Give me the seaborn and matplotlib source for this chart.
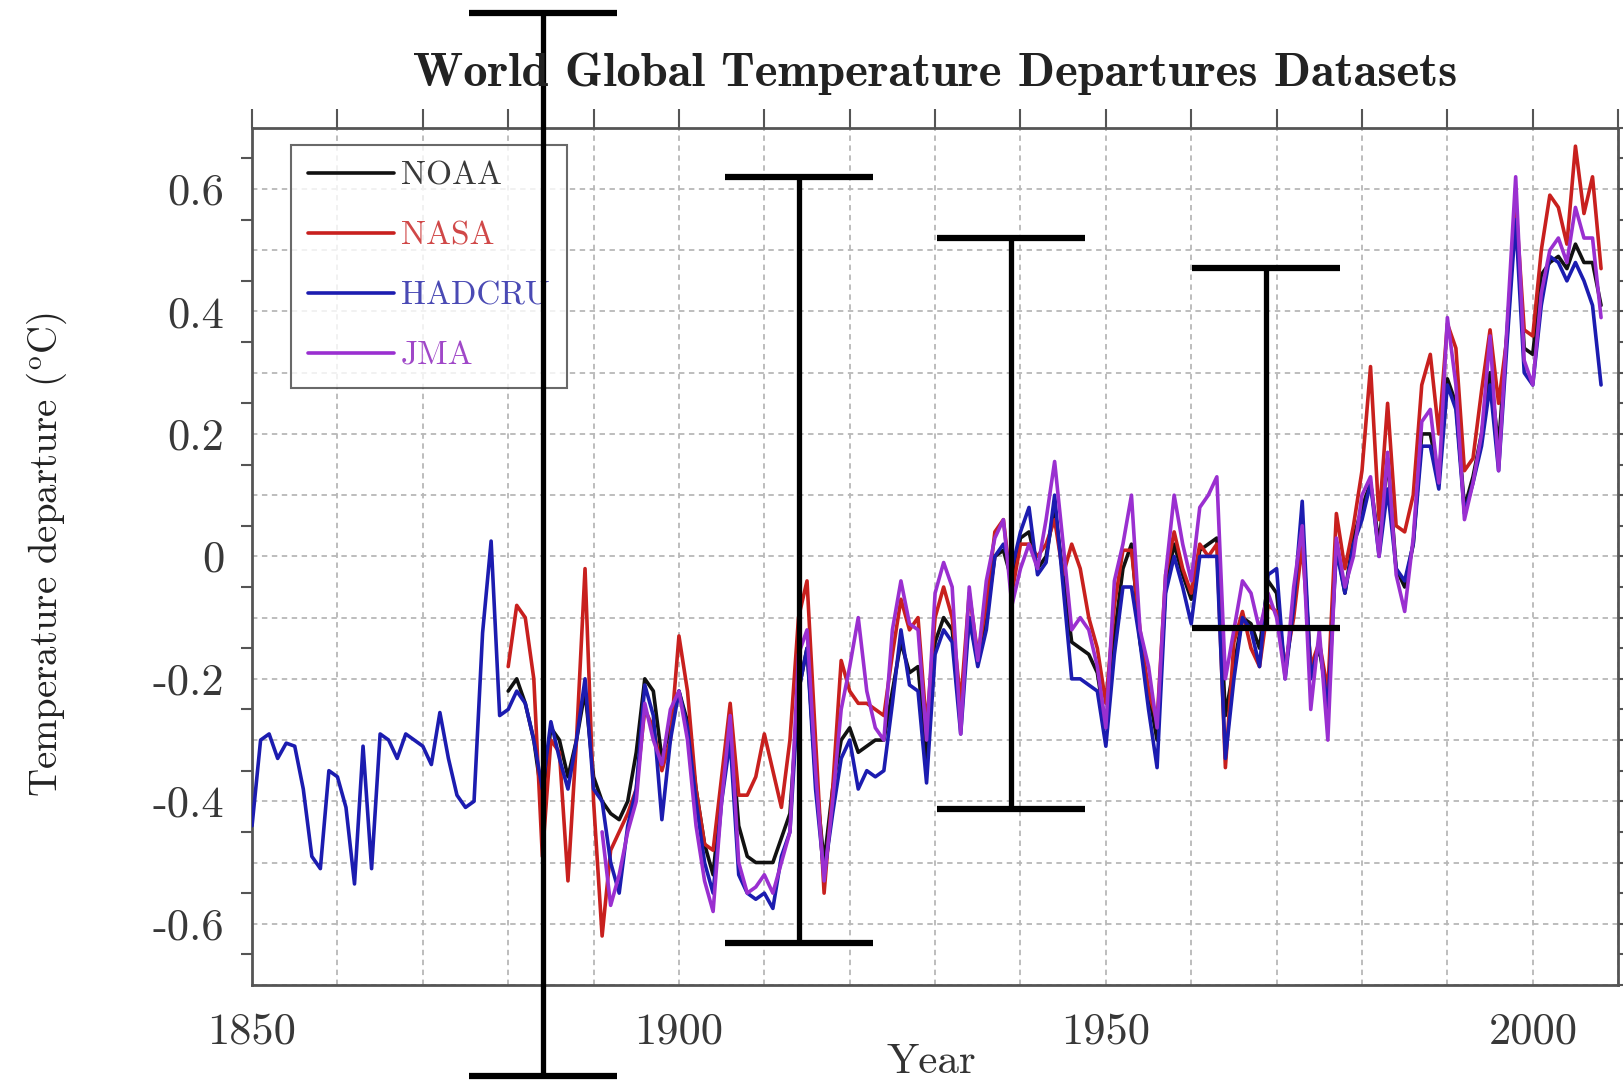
import numpy as np
import pandas as pd
import matplotlib
matplotlib.use("Agg")
import matplotlib.pyplot as plt
import seaborn as sns
from matplotlib.ticker import MultipleLocator

# ---------------- data ----------------
hadcru_years = list(range(1850, 2009))
hadcru = [
    -0.44, -0.30, -0.29, -0.33, -0.305, -0.31, -0.38, -0.49, -0.51, -0.35,
    -0.36, -0.41, -0.535, -0.31, -0.51, -0.29, -0.30, -0.33, -0.29, -0.30,
    -0.31, -0.34, -0.255, -0.33, -0.39, -0.41, -0.40, -0.125, 0.025, -0.26,
    -0.25, -0.22, -0.24, -0.30, -0.38, -0.27, -0.33, -0.38, -0.30, -0.20,
    -0.38, -0.40, -0.50, -0.55, -0.44, -0.38, -0.21, -0.26, -0.43, -0.30,
    -0.22, -0.28, -0.40, -0.50, -0.55, -0.40, -0.30, -0.52, -0.55, -0.56,
    -0.55, -0.575, -0.49, -0.45, -0.22, -0.15, -0.38, -0.52, -0.42, -0.33,
    -0.30, -0.38, -0.35, -0.36, -0.35, -0.24, -0.12, -0.21, -0.22, -0.37,
    -0.16, -0.12, -0.14, -0.29, -0.10, -0.18, -0.12, 0.00, 0.02, -0.02,
    0.04, 0.08, -0.03, -0.01, 0.10, -0.05, -0.20, -0.20, -0.21, -0.22,
    -0.31, -0.16, -0.05, -0.05, -0.14, -0.25, -0.345, -0.06, 0.00, -0.05,
    -0.11, 0.00, 0.00, 0.00, -0.33, -0.20, -0.10, -0.12, -0.18, -0.03,
    -0.02, -0.20, -0.08, 0.09, -0.20, -0.14, -0.25, 0.01, -0.06, 0.02,
    0.06, 0.12, 0.00, 0.11, -0.02, -0.04, 0.02, 0.18, 0.18, 0.11,
    0.28, 0.24, 0.07, 0.12, 0.18, 0.28, 0.14, 0.35, 0.55, 0.30,
    0.28, 0.41, 0.49, 0.48, 0.45, 0.48, 0.45, 0.41, 0.28,
]

other_years = list(range(1880, 2009))
noaa = [
    -0.22, -0.20, -0.24, -0.30, -0.40, -0.28, -0.30, -0.36, -0.30, -0.22,
    -0.36, -0.40, -0.42, -0.43, -0.40, -0.32, -0.20, -0.22, -0.33, -0.28,
    -0.22, -0.27, -0.38, -0.47, -0.52, -0.38, -0.27, -0.44, -0.49, -0.50,
    -0.50, -0.50, -0.46, -0.42, -0.22, -0.15, -0.36, -0.50, -0.38, -0.30,
    -0.28, -0.32, -0.31, -0.30, -0.30, -0.22, -0.14, -0.19, -0.18, -0.33,
    -0.14, -0.10, -0.12, -0.25, -0.10, -0.17, -0.10, 0.00, 0.01, -0.04,
    0.03, 0.04, -0.02, 0.00, 0.08, -0.03, -0.14, -0.15, -0.16, -0.19,
    -0.28, -0.13, -0.02, 0.02, -0.14, -0.22, -0.30, -0.05, 0.02, -0.03,
    -0.07, 0.01, 0.02, 0.03, -0.26, -0.18, -0.10, -0.11, -0.15, -0.04,
    -0.06, -0.19, -0.08, 0.05, -0.19, -0.15, -0.24, 0.02, -0.06, 0.03,
    0.08, 0.12, 0.02, 0.16, -0.02, -0.05, 0.02, 0.20, 0.20, 0.13,
    0.29, 0.25, 0.08, 0.13, 0.20, 0.30, 0.18, 0.37, 0.57, 0.34,
    0.33, 0.46, 0.48, 0.49, 0.47, 0.51, 0.48, 0.48, 0.41,
]
nasa = [
    -0.18, -0.08, -0.10, -0.20, -0.49, -0.30, -0.32, -0.53, -0.30, -0.02,
    -0.40, -0.62, -0.48, -0.45, -0.42, -0.38, -0.25, -0.28, -0.35, -0.30,
    -0.13, -0.22, -0.38, -0.47, -0.48, -0.36, -0.24, -0.39, -0.39, -0.36,
    -0.29, -0.35, -0.41, -0.30, -0.10, -0.04, -0.30, -0.55, -0.38, -0.17,
    -0.22, -0.24, -0.24, -0.25, -0.26, -0.16, -0.07, -0.12, -0.10, -0.28,
    -0.10, -0.05, -0.10, -0.24, -0.06, -0.16, -0.08, 0.04, 0.06, -0.06,
    0.02, 0.02, 0.00, 0.02, 0.06, -0.03, 0.02, -0.02, -0.10, -0.15,
    -0.24, -0.08, 0.01, 0.01, -0.12, -0.22, -0.27, -0.03, 0.04, -0.02,
    -0.06, 0.02, 0.00, 0.02, -0.345, -0.14, -0.09, -0.15, -0.18, -0.08,
    -0.09, -0.18, -0.10, 0.02, -0.18, -0.14, -0.22, 0.07, -0.02, 0.05,
    0.14, 0.31, 0.06, 0.25, 0.05, 0.04, 0.10, 0.28, 0.33, 0.20,
    0.38, 0.34, 0.14, 0.16, 0.27, 0.37, 0.25, 0.36, 0.58, 0.37,
    0.36, 0.50, 0.59, 0.57, 0.51, 0.67, 0.56, 0.62, 0.47,
]

jma_years = list(range(1891, 2009))
jma = [
    -0.45, -0.57, -0.52, -0.45, -0.40, -0.24, -0.30, -0.34, -0.25,
    -0.22, -0.30, -0.44, -0.53, -0.58, -0.40, -0.26, -0.50, -0.55, -0.54,
    -0.52, -0.55, -0.50, -0.45, -0.16, -0.12, -0.35, -0.53, -0.40, -0.25,
    -0.18, -0.10, -0.22, -0.28, -0.30, -0.12, -0.04, -0.11, -0.12, -0.30,
    -0.06, -0.01, -0.05, -0.29, -0.05, -0.17, -0.04, 0.03, 0.06, -0.08,
    -0.02, 0.02, -0.02, 0.06, 0.155, 0.02, -0.12, -0.10, -0.12, -0.18,
    -0.28, -0.04, 0.02, 0.10, -0.12, -0.18, -0.28, -0.03, 0.10, 0.02,
    -0.04, 0.08, 0.10, 0.13, -0.20, -0.12, -0.04, -0.06, -0.12, -0.06,
    -0.10, -0.20, -0.05, 0.05, -0.25, -0.12, -0.30, 0.03, -0.05, 0.00,
    0.10, 0.13, 0.00, 0.17, -0.03, -0.09, 0.03, 0.22, 0.24, 0.12,
    0.39, 0.28, 0.06, 0.12, 0.20, 0.36, 0.14, 0.38, 0.62, 0.32,
    0.28, 0.43, 0.50, 0.52, 0.48, 0.57, 0.52, 0.52, 0.39,
]

datasets = ["NOAA", "NASA", "HADCRU", "JMA"]
line_colors = ["#111111", "#c8201e", "#1c1cb0", "#9a2fd0"]
legend_text_colors = ["#3a3a3a", "#d04848", "#4a4ab4", "#a048c8"]

# error-bar overlay (year, lower, upper)
bar_years = [1884.1, 1914.1, 1938.9, 1968.8]
bar_low = [-0.849, -0.631, -0.412, -0.117]
bar_high = [0.888, 0.619, 0.520, 0.471]

x_ticks = list(range(1850, 2011, 10))
x_tick_labels = ["1850", "", "", "", "", "1900", "", "", "", "", "1950",
                 "", "", "", "", "2000", ""]
y_ticks = [-0.7, -0.6, -0.5, -0.4, -0.3, -0.2, -0.1, 0.0, 0.1, 0.2, 0.3,
           0.4, 0.5, 0.6, 0.7]
y_tick_labels = ["", "-0.6", "", "-0.4", "", "-0.2", "", "0", "", "0.2", "",
                 "0.4", "", "0.6", ""]

title = "World Global Temperature Departures Datasets"
y_label = r"Temperature departure ($^{\mathrm{o}}$C)"
x_label = "Year"

# ---------------- frame ----------------
df = pd.concat([
    pd.DataFrame({"year": other_years, "value": noaa, "dataset": "NOAA"}),
    pd.DataFrame({"year": other_years, "value": nasa, "dataset": "NASA"}),
    pd.DataFrame({"year": hadcru_years, "value": hadcru, "dataset": "HADCRU"}),
    pd.DataFrame({"year": jma_years, "value": jma, "dataset": "JMA"}),
], ignore_index=True)

sns.set_style("white")
plt.rcParams["font.family"] = ["cmr10", "DejaVu Serif"]
plt.rcParams["mathtext.fontset"] = "cm"
plt.rcParams["axes.formatter.use_mathtext"] = True

fig = plt.figure(figsize=(16.23, 10.85), dpi=100)
ax = fig.add_axes([0.1553, 0.0922, 0.8417, 0.790])

sns.lineplot(data=df, x="year", y="value", hue="dataset", hue_order=datasets,
             palette=dict(zip(datasets, line_colors)), linewidth=2.6,
             errorbar=None, ax=ax, zorder=3)

ax.set_xlim(1850, 2010)
ax.set_ylim(-0.7, 0.7)
ax.set_xticks(x_ticks)
ax.set_xticklabels(x_tick_labels)
ax.set_yticks(y_ticks)
ax.set_yticklabels(y_tick_labels)
ax.yaxis.set_minor_locator(MultipleLocator(0.05))
ax.set_xlabel("")
ax.set_ylabel("")

ax.tick_params(axis="both", which="major", direction="out", length=14,
               width=1.5, color="#555555", top=True, right=True,
               labelsize=32, labelcolor="#383838", pad=6)
ax.tick_params(axis="y", which="minor", direction="out", length=8,
               width=1.5, color="#555555", left=True, right=True)
ax.grid(True, which="major", color="#b8b8b8", linestyle=(0, (3, 2.5)),
        linewidth=1.3)
ax.set_axisbelow(True)
for s in ax.spines.values():
    s.set_color("#555555")
    s.set_linewidth(2)

# error bars
mid = [(l + h) / 2 for l, h in zip(bar_low, bar_high)]
err = [[m - l for m, l in zip(mid, bar_low)], [h - m for h, m in zip(bar_high, mid)]]
eb = ax.errorbar(bar_years, mid, yerr=err, fmt="none", ecolor="black",
                 elinewidth=3.8, capsize=53, capthick=4.5, zorder=6)
for art in eb.get_children():
    art.set_clip_on(False)

# legend
handles, labels = ax.get_legend_handles_labels()
leg = ax.legend(handles, labels, loc="upper left", bbox_to_anchor=(0.0286, 0.980),
                borderaxespad=0, frameon=True, fancybox=False,
                prop={"family": ["cmr10", "DejaVu Serif"], "size": 24},
                handlelength=2.6, handletextpad=0.2, labelspacing=0.92,
                borderpad=0.5)
for t, c in zip(leg.get_texts(), legend_text_colors):
    t.set_color(c)
for l in leg.get_lines():
    l.set_linewidth(2.6)
leg.get_frame().set_edgecolor("#444444")
leg.get_frame().set_linewidth(1.5)
leg.set_zorder(5)

fig.text(0.576, 0.932, title, ha="center", va="center", fontsize=35,
         family=["cmb10", "DejaVu Serif"], color="#222222")
fig.text(0.029, 0.489, y_label, rotation=90, ha="center", va="center",
         fontsize=28, color="#222222")
fig.text(0.574, 0.004, x_label, ha="center", va="bottom", fontsize=31,
         color="#333333")

fig.savefig("out.png", dpi=100)
